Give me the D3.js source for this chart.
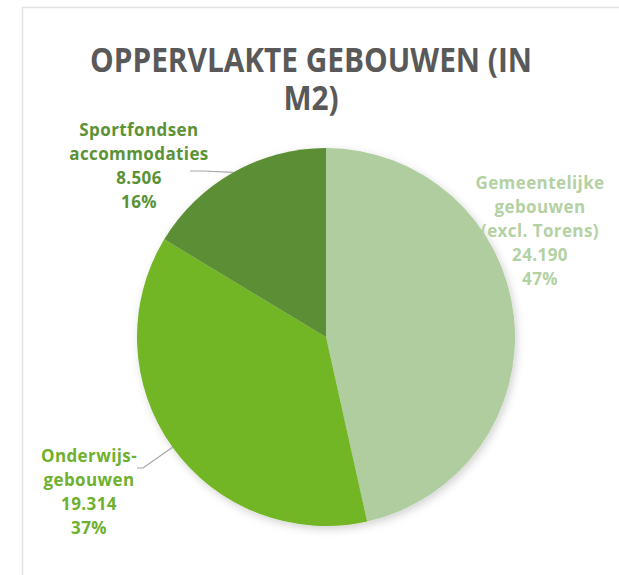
<!DOCTYPE html>
<html>
<head>
<meta charset="utf-8">
<script src="https://cdn.jsdelivr.net/npm/d3@7"></script>
<style>
  body { margin: 0; background: #fff; }
  svg { display: block; font-family: 'Open Sans', sans-serif; }
</style>
</head>
<body>
<div id="chart"></div>
<script>
const categories = ['Gemeentelijke gebouwen (excl. Torens)', 'Onderwijsgebouwen', 'Sportfondsen accommodaties'];
const values = [24190, 19314, 8506];
const labelLines = [
    ['Gemeentelijke', 'gebouwen', '(excl. Torens)'],
    ['Onderwijs-', 'gebouwen'],
    ['Sportfondsen', 'accommodaties']
];
const colors = ['#b0cd9f', '#72b625', '#5b8f34'];
const labelColors = ['#b4d1a4', '#6fb02e', '#5b9236'];
const titleLines = ['OPPERVLAKTE GEBOUWEN (IN', 'M2)'];

const W = 619, H = 575;
const svg = d3.select('#chart').append('svg')
    .attr('width', W)
    .attr('height', H);

// frame
svg.append('rect')
    .attr('x', 22.5).attr('y', 7.5)
    .attr('width', W + 10).attr('height', H + 10)
    .attr('fill', '#fff')
    .attr('stroke', '#e2e2e2')
    .attr('stroke-width', 1.5);

const defs = svg.append('defs');
const shadow = defs.append('filter').attr('id', 'shadow')
    .attr('x', '-10%').attr('y', '-10%').attr('width', '125%').attr('height', '125%');
shadow.append('feDropShadow')
    .attr('dx', 2).attr('dy', 3).attr('stdDeviation', 4)
    .attr('flood-color', '#000').attr('flood-opacity', 0.18);

// title, squeezed horizontally to the reference's condensed look
const titleG = svg.append('g');
const titleText = titleG.selectAll('text').data(titleLines).join('text')
    .attr('x', 0)
    .attr('y', (d, i) => 72 + i * 38)
    .attr('text-anchor', 'middle')
    .style('font-size', '34px')
    .style('font-weight', 700)
    .style('fill', '#595959')
    .text(d => d);
const titleW = titleText.node().getComputedTextLength();
titleG.attr('transform', `translate(311,0) scale(${442 / titleW},1)`);

const cx = 326, cy = 337, r = 189;
const total = d3.sum(values);
const fmt = d3.formatLocale({ decimal: ',', thousands: '.', grouping: [3], currency: ['€', ''] }).format(',d');

const pie = d3.pie().sort(null).value(d => d);
const arcs = pie(values);
const arc = d3.arc().innerRadius(0).outerRadius(r);

const g = svg.append('g').attr('transform', `translate(${cx},${cy})`);
g.append('g').attr('filter', 'url(#shadow)')
    .selectAll('path').data(arcs).join('path')
    .attr('d', arc)
    .attr('fill', (d, i) => colors[i]);

// label anchor positions (centre x, first baseline y)
const labelPos = [
    { x: 540, y: 189 },
    { x: 89, y: 462 },
    { x: 139, y: 136 }
];
const lineH = 24;

const labels = svg.append('g');
arcs.forEach((a, i) => {
    const lines = [...labelLines[i], fmt(values[i]), Math.round(values[i] / total * 100) + '%'];
    labels.append('g').selectAll('text').data(lines).join('text')
        .attr('x', labelPos[i].x)
        .attr('y', (d, j) => labelPos[i].y + j * lineH)
        .attr('text-anchor', 'middle')
        .style('font-size', '17px')
        .style('font-weight', 700)
        .style('letter-spacing', '0.4px')
        .style('fill', labelColors[i])
        .text(d => d);
});

// leader lines for the left-hand labels
const leader = (i, x0, y0, x1) => {
    const mid = (arcs[i].startAngle + arcs[i].endAngle) / 2;
    const edge = [cx + Math.sin(mid) * r, cy - Math.cos(mid) * r];
    svg.append('polyline')
        .attr('points', `${x0},${y0} ${x1},${y0} ${edge[0]},${edge[1]}`)
        .attr('fill', 'none')
        .attr('stroke', '#a6a6a6')
        .attr('stroke-width', 1.2);
};
leader(2, 190, 171, 204);
leader(1, 137, 468, 143);
</script>
</body>
</html>
